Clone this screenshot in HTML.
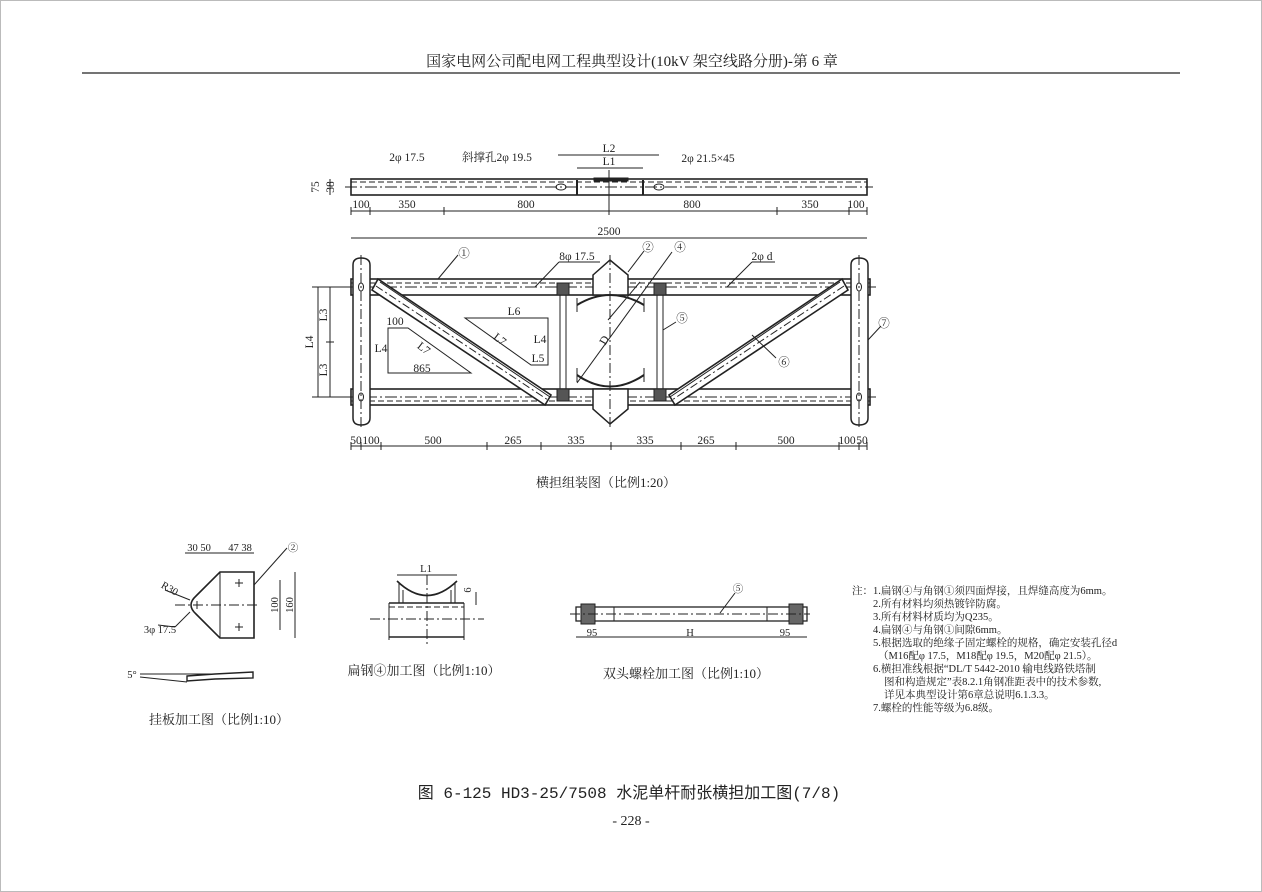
<!DOCTYPE html>
<html><head><meta charset="utf-8"><style>
body{margin:0;background:#fff;width:1262px;height:892px;overflow:hidden}
svg{display:block}
text{font-family:"Liberation Serif","Noto Serif CJK SC",serif;fill:#222}
.c{font-family:"Liberation Mono","Noto Sans CJK SC",monospace}
</style></head><body>
<svg width="1262" height="892" viewBox="0 0 1262 892" xmlns="http://www.w3.org/2000/svg">
<rect x="0.5" y="0.5" width="1261" height="891" fill="none" stroke="#bbb"/>
<text x="632" y="66" font-size="15" text-anchor="middle">国家电网公司配电网工程典型设计(10kV 架空线路分册)-第 6 章</text>
<line x1="82" y1="73" x2="1180" y2="73" stroke="#222" stroke-width="1.2"/>

<g stroke="#222" fill="none" stroke-width="1">
<rect x="351" y="179" width="516" height="16" stroke-width="1.6"/>
<line x1="351" y1="182" x2="867" y2="182" stroke-dasharray="6 3"/>
<line x1="345" y1="187" x2="873" y2="187" stroke-dasharray="12 3 2 3"/>
<rect x="594" y="178" width="34" height="3" fill="#222"/>
<line x1="577" y1="180" x2="577" y2="195" stroke-width="2"/>
<line x1="643" y1="180" x2="643" y2="195" stroke-width="2"/>
<ellipse cx="561" cy="187" rx="5" ry="3"/><ellipse cx="659" cy="187" rx="5" ry="3"/>
<line x1="609" y1="170" x2="609" y2="215"/>
<line x1="558" y1="155" x2="659" y2="155"/><line x1="577" y1="168" x2="643" y2="168"/>
<line x1="351" y1="211" x2="867" y2="211"/>
<line x1="351" y1="238" x2="867" y2="238"/>
<line x1="330" y1="179" x2="330" y2="195"/>
<rect x="351" y="279" width="519" height="16" stroke-width="1.6"/>
<line x1="351" y1="283" x2="870" y2="283" stroke-dasharray="6 3"/>
<rect x="351" y="389" width="519" height="16" stroke-width="1.6"/>
<line x1="351" y1="401" x2="870" y2="401" stroke-dasharray="6 3"/>
<line x1="345" y1="287" x2="876" y2="287" stroke-dasharray="12 3 2 3"/>
<line x1="345" y1="397" x2="876" y2="397" stroke-dasharray="12 3 2 3"/>
<path d="M353 265 Q353 258 361 258 Q370 258 370 265 V418 Q370 425 361 425 Q353 425 353 418Z" stroke-width="1.5" fill="#fff"/>
<path d="M851 265 Q851 258 859 258 Q868 258 868 265 V418 Q868 425 859 425 Q851 425 851 418Z" stroke-width="1.5" fill="#fff"/>
<line x1="361" y1="255" x2="361" y2="428" stroke-dasharray="10 3 2 3"/>
<line x1="859" y1="255" x2="859" y2="428" stroke-dasharray="10 3 2 3"/>
<ellipse cx="361" cy="287" rx="2.5" ry="4"/><ellipse cx="361" cy="397" rx="2.5" ry="4"/>
<ellipse cx="859" cy="287" rx="2.5" ry="4"/><ellipse cx="859" cy="397" rx="2.5" ry="4"/>
<path d="M593 275 L610 260 L628 275 V295 H593Z" stroke-width="1.5" fill="#fff"/>
<path d="M593 389 H628 V409 L610 424 L593 409Z" stroke-width="1.5" fill="#fff"/>
<line x1="610" y1="255" x2="610" y2="430" stroke-dasharray="10 3 2 3"/>
<path d="M577 305 Q610 285 644 305" stroke-width="2"/>
<path d="M577 375 Q610 398 644 375" stroke-width="2"/>
<line x1="577" y1="298" x2="577" y2="312"/><line x1="644" y1="298" x2="644" y2="312"/>
<line x1="577" y1="368" x2="577" y2="382"/><line x1="644" y1="368" x2="644" y2="382"/>
<rect x="560" y="283" width="6" height="117"/><rect x="657" y="283" width="6" height="117"/>
<rect x="557" y="283" width="12" height="12" fill="#555"/><rect x="557" y="389" width="12" height="12" fill="#555"/>
<rect x="654" y="283" width="12" height="12" fill="#555"/><rect x="654" y="389" width="12" height="12" fill="#555"/>
<polygon points="378,279 551,395 545,405 372,290" stroke-width="1.6" fill="#fff"/>
<line x1="376" y1="286" x2="548" y2="400" stroke-dasharray="8 3 2 3"/>
<line x1="380" y1="282" x2="550" y2="397"/>
<polygon points="842,279 669,395 675,405 848,290" stroke-width="1.6" fill="#fff"/>
<line x1="844" y1="286" x2="672" y2="400" stroke-dasharray="8 3 2 3"/>
<line x1="840" y1="282" x2="670" y2="397"/>
<polygon points="388,328 408,328 471,373 388,373"/>
<polygon points="465,318 548,318 548,365 531,365"/>
<line x1="608" y1="320" x2="640" y2="282"/><line x1="577" y1="383" x2="672" y2="252"/>
<line x1="318" y1="287" x2="318" y2="397"/><line x1="330" y1="287" x2="330" y2="397"/>
<line x1="312" y1="287" x2="345" y2="287"/><line x1="312" y1="397" x2="345" y2="397"/>
<line x1="326" y1="342" x2="334" y2="342"/>
<line x1="351" y1="446" x2="867" y2="446"/>
<line x1="438" y1="279" x2="458" y2="255"/><line x1="535" y1="287" x2="559" y2="262"/><line x1="559" y1="262" x2="600" y2="262"/>
<line x1="628" y1="272" x2="644" y2="251"/><line x1="727" y1="287" x2="752" y2="262"/><line x1="752" y1="262" x2="775" y2="262"/>
<line x1="663" y1="330" x2="676" y2="322"/><line x1="752" y1="335" x2="776" y2="358"/><line x1="868" y1="340" x2="881" y2="326"/>
</g>
<g font-size="11.5">
<g stroke="#222" stroke-width="1">
<line x1="351" y1="207" x2="351" y2="215"/><line x1="370" y1="207" x2="370" y2="215"/><line x1="444" y1="207" x2="444" y2="215"/><line x1="609" y1="207" x2="609" y2="215"/><line x1="777" y1="207" x2="777" y2="215"/><line x1="849" y1="207" x2="849" y2="215"/><line x1="867" y1="207" x2="867" y2="215"/>
<line x1="351" y1="442" x2="351" y2="450"/><line x1="361" y1="442" x2="361" y2="450"/><line x1="381" y1="442" x2="381" y2="450"/><line x1="487" y1="442" x2="487" y2="450"/><line x1="541" y1="442" x2="541" y2="450"/><line x1="611" y1="442" x2="611" y2="450"/><line x1="681" y1="442" x2="681" y2="450"/><line x1="736" y1="442" x2="736" y2="450"/><line x1="839" y1="442" x2="839" y2="450"/><line x1="859" y1="442" x2="859" y2="450"/><line x1="867" y1="442" x2="867" y2="450"/>
</g>
<text x="407" y="161" text-anchor="middle">2φ 17.5</text><text x="497" y="161" text-anchor="middle">斜撑孔2φ 19.5</text>
<text x="609" y="152" text-anchor="middle">L2</text><text x="609" y="165" text-anchor="middle">L1</text>
<text x="708" y="162" text-anchor="middle">2φ 21.5×45</text>
<text x="361" y="208" text-anchor="middle">100</text><text x="407" y="208" text-anchor="middle">350</text><text x="526" y="208" text-anchor="middle">800</text><text x="692" y="208" text-anchor="middle">800</text><text x="810" y="208" text-anchor="middle">350</text><text x="856" y="208" text-anchor="middle">100</text>
<text x="609" y="235" text-anchor="middle">2500</text>
<text x="315" y="191" transform="rotate(-90 315 187)" text-anchor="middle">75</text><text x="330" y="191" transform="rotate(-90 330 187)" text-anchor="middle">38</text>
<text x="464" y="257" text-anchor="middle">①</text><text x="577" y="260" text-anchor="middle">8φ 17.5</text><text x="648" y="251" text-anchor="middle">②</text><text x="680" y="251" text-anchor="middle">④</text><text x="762" y="260" text-anchor="middle">2φ d</text>
<text x="682" y="322" text-anchor="middle">⑤</text><text x="784" y="366" text-anchor="middle">⑥</text><text x="884" y="327" text-anchor="middle">⑦</text>
<text x="395" y="325" text-anchor="middle">100</text><text x="381" y="352" text-anchor="middle">L4</text><text x="422" y="372" text-anchor="middle">865</text><text x="424" y="352" transform="rotate(38 424 348)" text-anchor="middle">L7</text>
<text x="514" y="315" text-anchor="middle">L6</text><text x="540" y="343" text-anchor="middle">L4</text><text x="538" y="362" text-anchor="middle">L5</text><text x="500" y="343" transform="rotate(38 500 339)" text-anchor="middle">L7</text>
<text x="604" y="344" transform="rotate(-60 604 340)" text-anchor="middle">D</text>
<text x="313" y="342" transform="rotate(-90 313 342)" text-anchor="middle">L4</text><text x="327" y="315" transform="rotate(-90 327 315)" text-anchor="middle">L3</text><text x="327" y="370" transform="rotate(-90 327 370)" text-anchor="middle">L3</text>
<text x="356" y="444" text-anchor="middle">50</text><text x="371" y="444" text-anchor="middle">100</text><text x="433" y="444" text-anchor="middle">500</text><text x="513" y="444" text-anchor="middle">265</text><text x="576" y="444" text-anchor="middle">335</text><text x="645" y="444" text-anchor="middle">335</text><text x="706" y="444" text-anchor="middle">265</text><text x="786" y="444" text-anchor="middle">500</text><text x="847" y="444" text-anchor="middle">100</text><text x="862" y="444" text-anchor="middle">50</text>
</g>
<text x="606" y="487" font-size="13" text-anchor="middle">横担组装图（比例1:20）</text>

<g stroke="#222" fill="none" stroke-width="1">
<path d="M220 572 H254 V638 H220 L196 614 Q186 605 196 596Z" stroke-width="1.6"/>
<line x1="220" y1="572" x2="220" y2="638"/>
<line x1="175" y1="605" x2="258" y2="605" stroke-dasharray="10 3 2 3"/>
<path d="M235 583h8M239 579v8M235 627h8M239 623v8M193 605h8M197 601v8"/>
<line x1="185" y1="553" x2="254" y2="553"/><line x1="254" y1="585" x2="287" y2="548"/>
<line x1="280" y1="580" x2="280" y2="630"/><line x1="295" y1="572" x2="295" y2="638"/>
<line x1="175" y1="627" x2="190" y2="612"/><line x1="158" y1="625" x2="175" y2="627"/>
<line x1="165" y1="590" x2="190" y2="600"/>
<path d="M187 676 L215 674 L253 672 V678 L215 679 L187 681Z" stroke-width="1.4"/>
<line x1="140" y1="674" x2="215" y2="674"/><line x1="140" y1="677" x2="187" y2="682"/>
<line x1="389" y1="603" x2="464" y2="603" stroke-width="1.4"/><line x1="389" y1="637" x2="464" y2="637" stroke-width="1.4"/>
<line x1="389" y1="607" x2="464" y2="607" stroke-dasharray="6 3"/>
<line x1="370" y1="619" x2="484" y2="619" stroke-dasharray="10 3 2 3"/>
<line x1="389" y1="603" x2="389" y2="640"/><line x1="464" y1="603" x2="464" y2="640"/>
<line x1="427" y1="575" x2="427" y2="645" stroke-dasharray="10 3 2 3"/>
<path d="M397 581 Q427 610 457 581" stroke-width="1.6"/><path d="M399 583 V603 M455 583 V603 M403 590 V603 M451 590 V603"/>
<line x1="397" y1="575" x2="457" y2="575"/><line x1="476" y1="592" x2="476" y2="605"/>
<rect x="576" y="607" width="231" height="14" stroke-width="1.3"/>
<rect x="581" y="604" width="14" height="20" fill="#666"/><rect x="789" y="604" width="14" height="20" fill="#666"/>
<line x1="570" y1="614" x2="810" y2="614" stroke-dasharray="10 3 2 3"/>
<line x1="614" y1="607" x2="614" y2="621"/><line x1="767" y1="607" x2="767" y2="621"/>
<line x1="576" y1="637" x2="807" y2="637"/><line x1="720" y1="613" x2="735" y2="593"/>
</g>
<g font-size="10.5">
<text x="199" y="551" text-anchor="middle">30 50</text><text x="240" y="551" text-anchor="middle">47 38</text><text x="293" y="551" text-anchor="middle">②</text>
<text x="170" y="592" transform="rotate(30 170 588)" text-anchor="middle">R30</text><text x="160" y="633" text-anchor="middle">3φ 17.5</text>
<text x="278" y="605" transform="rotate(-90 278 605)" text-anchor="middle">100</text><text x="293" y="605" transform="rotate(-90 293 605)" text-anchor="middle">160</text>
<text x="132" y="678" text-anchor="middle">5°</text>
<text x="426" y="572" text-anchor="middle">L1</text><text x="471" y="590" transform="rotate(-90 471 590)" text-anchor="middle">6</text>
<text x="738" y="592" text-anchor="middle">⑤</text><text x="592" y="636" text-anchor="middle">95</text><text x="690" y="636" text-anchor="middle">H</text><text x="785" y="636" text-anchor="middle">95</text>
</g>
<text x="424" y="675" font-size="13" text-anchor="middle">扁钢④加工图（比例1:10）</text>
<text x="686" y="678" font-size="13" text-anchor="middle">双头螺栓加工图（比例1:10）</text>
<text x="219" y="724" font-size="13" text-anchor="middle">挂板加工图（比例1:10）</text>

<g font-size="10.5">
<text x="852" y="594">注：1.扁钢④与角钢①须四面焊接，且焊缝高度为6mm。</text>
<text x="873" y="607">2.所有材料均须热镀锌防腐。</text>
<text x="873" y="620">3.所有材料材质均为Q235。</text>
<text x="873" y="633">4.扁钢④与角钢①间隙6mm。</text>
<text x="873" y="646">5.根据选取的绝缘子固定螺栓的规格，确定安装孔径d</text>
<text x="878" y="659">（M16配φ 17.5，M18配φ 19.5，M20配φ 21.5）。</text>
<text x="873" y="672">6.横担准线根据“DL/T 5442-2010 输电线路铁塔制</text>
<text x="884" y="685">图和构造规定”表8.2.1角钢准距表中的技术参数,</text>
<text x="884" y="698">详见本典型设计第6章总说明6.1.3.3。</text>
<text x="873" y="711">7.螺栓的性能等级为6.8级。</text>
</g>
<text x="629" y="798" font-size="16" text-anchor="middle" class="c">图 6-125  HD3-25/7508 水泥单杆耐张横担加工图(7/8)</text>
<text x="631" y="825" font-size="14" text-anchor="middle">- 228 -</text>
</svg>
</body></html>
